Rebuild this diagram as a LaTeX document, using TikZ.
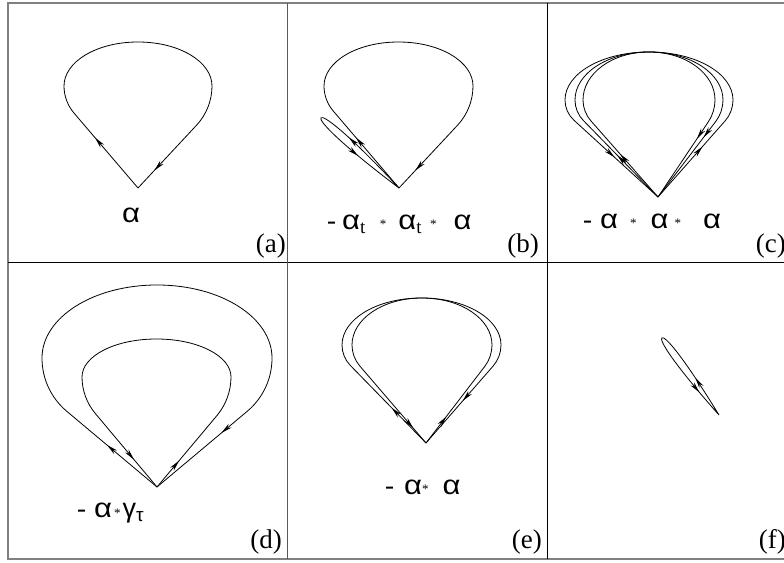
\documentclass[tikz,border=0pt]{standalone}
\usepackage{fontspec,graphicx}
\setmainfont{Liberation Serif}
\newfontfamily\griech{Liberation Sans}
\usetikzlibrary{arrows.meta,calc,decorations.markings}
\newcommand{\gross}{\fontsize{27}{30}\selectfont}
\newcommand{\alf}{\scalebox{1.15}[1]{\griech α}}
\newcommand{\stern}{\raisebox{1pt}{\fontsize{13}{13}\selectfont *}}
\newcommand{\tropfen}[8][]{%
  \pgfmathsetmacro{\gapl}{#5-abs(#3*tan(#7))}\pgfmathsetmacro{\gapr}{#5-abs(#4*tan(#8))}%
  \draw[linie,#1] (#2) -- ++(#7:{abs(#3/cos(#7))-\gapl})
    .. controls +(#7:{0.64*\gapl}) and +(0,{-0.64*\gapl}) .. ($(#2)+(#3,#5)$)
    .. controls +(0,{0.55*(#6-#5)}) and +({-0.28*(#4-#3)},0) .. ($(#2)+({(#3+#4)/2},#6)$)
    .. controls +({0.28*(#4-#3)},0) and +(0,{0.55*(#6-#5)}) .. ($(#2)+(#4,#5)$)
    .. controls +(0,{-0.64*\gapr}) and +(#8:{0.64*\gapr}) .. ($(#2)+(#8:{abs(#4/cos(#8))-\gapr})$)
    -- (#2);}
\newcommand{\schleife}[4][]{%
  \draw[linie,#1] (#2) .. controls +({#3-5}:{0.7*#4}) and +({#3-90}:4) .. ($(#2)+(#3:#4)$)
    .. controls +({#3+90}:4) and +({#3+5}:{0.7*#4}) .. (#2);}

\begin{document}
\begin{tikzpicture}[x=1pt,y=1pt,
  spitze/.tip={Stealth[length=11pt,width=4.8pt]},
  linie/.style={line width=0.8pt,line join=round},
  hin/.style 2 args={postaction={decorate,decoration={markings,
    mark=at position #1 with {\arrow{spitze}},mark=at position #2 with {\arrow{spitze}}}}},
  rueck/.style 2 args={postaction={decorate,decoration={markings,
    mark=at position #1 with {\arrowreversed{spitze}},mark=at position #2 with {\arrowreversed{spitze}}}}},
  rahmen/.style={draw=black!50,line width=1.4pt},
  trenn/.style={line width=0.9pt},
  formel/.style={anchor=base west,inner sep=0,font=\gross},
  marke/.style={anchor=east,inner sep=0,font=\gross}]
\useasboundingbox (0,0) rectangle (784,562);
\clip (0,0) rectangle (784,562);
\draw[rahmen] (8,3) rectangle (800,559);
\draw[trenn] (8,300) -- (784,300);
\draw[trenn,black!65] (287,3) -- (287,559);
\draw[trenn] (547,3) -- (547,559);

\tropfen[hin={66pt}{-24pt}]{138,374}{-74}{74}{102}{146}{130.5}{47}
\node[formel] (ta) at (122,339) {\alf};
\node[marke] (ma) at (286,316) {(a)};

\tropfen[hin={66pt}{-24pt}]{399,374}{-75}{74}{102}{146}{130.5}{47}
\schleife[hin={71pt}{-52pt}]{399,374}{138}{105}
\node[formel] (tb) at (327,332) {-\hspace{6pt}\alf\textsubscript{t}\hspace{14pt}\stern\hspace{12pt}\alf\textsubscript{t}\hspace{8pt}\stern\hspace{17pt}\alf};
\node[marke] (mb) at (539,316) {(b)};

\tropfen[hin={57pt}{-70pt}]{658,365}{-75}{57}{97}{145}{131.4}{56.2}
\tropfen[hin={58pt}{-75pt}]{658,365}{-83}{65}{97}{145}{134.3}{52.6}
\tropfen[rueck={59pt}{-67pt}]{658,365}{-93}{75}{97}{145}{137.6}{48.6}
\node[formel] (tc) at (583,333) {-\hspace{8pt}\alf\hspace{12pt}\stern\hspace{14pt}\alf\hspace{6pt}\stern\hspace{22pt}\alf};
\node[marke] (mc) at (786,316) {(c)};

\tropfen[hin={65pt}{-84pt}]{157,75}{-115}{115}{129}{202}{140}{40}
\tropfen[rueck={36pt}{-34pt}]{157,75}{-75}{74}{110}{148}{130}{50}
\node[formel] (td) at (77,44) {-\hspace{8pt}\alf\hspace{2pt}\stern\hspace{2pt}{\griech γ}\textsubscript{\griech τ}};
\node[marke] (md) at (282,20) {(d)};

\tropfen[hin={49pt}{-56pt}]{426,119}{-84}{75}{98}{145}{134.3}{48.9}
\tropfen[rueck={20pt}{-33pt}]{426,119}{-74}{66}{98}{145}{130.7}{52.5}
\node[formel] (te) at (385,67) {-\hspace{10pt}\alf\stern\hspace{14pt}\alf};
\node[marke] (me) at (542,20) {(e)};

\schleife[hin={44pt}{-30pt}]{719,147}{126.5}{96}
\node[marke] (mf) at (786,20) {(f)};
\end{tikzpicture}
\end{document}
